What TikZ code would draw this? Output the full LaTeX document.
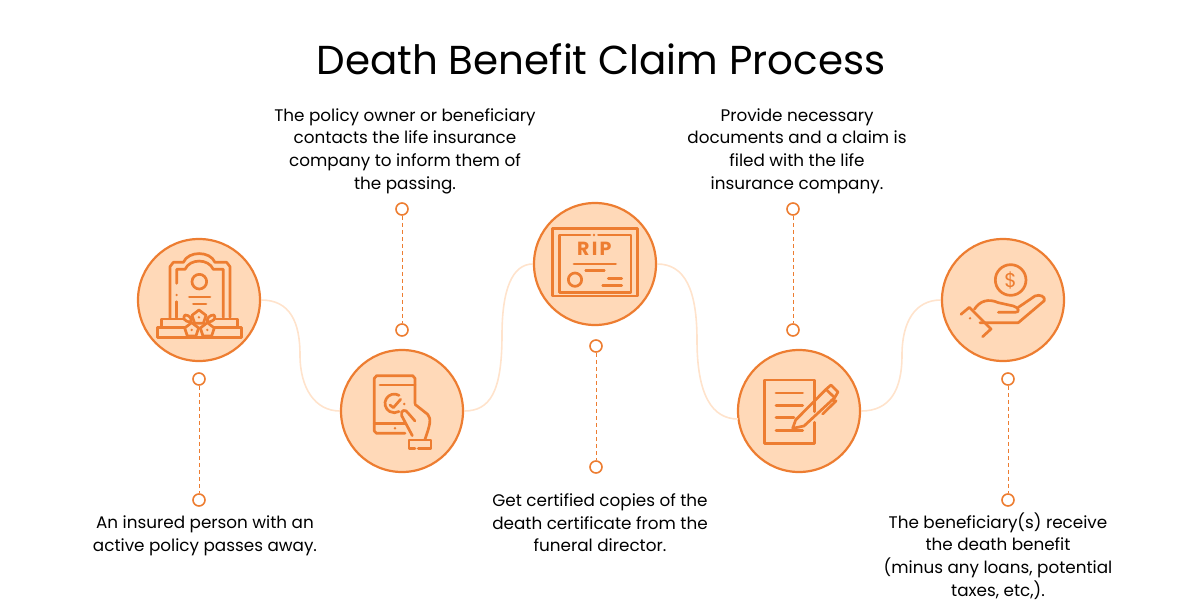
\documentclass[tikz,border=0pt]{standalone}
\usepackage{fontspec}
\setmainfont{Poppins}
\definecolor{iconorange}{HTML}{ED7D31}
\definecolor{stepfill}{HTML}{FFD9B8}
\definecolor{wavecolor}{HTML}{FFE3CC}
\tikzset{
  stepcircle/.style={circle,draw=iconorange,fill=stepfill,line width=2.2pt,minimum size=122pt,inner sep=0pt},
  dotcircle/.style={circle,draw=iconorange,fill=white,line width=1.6pt,minimum size=12pt,inner sep=0pt},
  dashline/.style={draw=iconorange,line width=0.9pt,dash pattern=on 4pt off 3pt},
  waveline/.style={draw=wavecolor,line width=1.6pt},
  iconline/.style={draw=iconorange,line width=2.7pt,line cap=round,line join=round},
  bodytext/.style={align=center,inner sep=0pt,text=black,font=\fontsize{16.8}{22.6}\selectfont},
  icontext/.style={inner sep=0pt,text=iconorange},
  icon/.style={shift={#1},x=0.3333pt,y=-0.3333pt}
}
\begin{document}
\begin{tikzpicture}[x=1pt,y=-1pt]
  \useasboundingbox (0,0) rectangle (1200,616);

  \node[inner sep=0pt,font=\fontsize{40.4}{46}\selectfont] (title) at (601,59) {Death Benefit Claim Process};

  \node[stepcircle] (grave) at (199,300) {};
  \node[stepcircle] (phone) at (402,411) {};
  \node[stepcircle] (cert) at (595,264) {};
  \node[stepcircle] (claim) at (799,411) {};
  \node[stepcircle] (money) at (1003,300) {};

  \coordinate (w1) at (300,355);
  \coordinate (w2) at (502,335);
  \coordinate (w3) at (697,340);
  \coordinate (w4) at (902,355);
  \coordinate (w5) at (738,419);
  \draw[waveline] (grave.east) .. controls (290,300) and (300,322) .. (w1) .. controls (300,388) and (315,411) .. (phone.west);
  \draw[waveline] (phone.east) .. controls (490,411) and (502,392) .. (w2) .. controls (502,290) and (512,264) .. (cert.west);
  \draw[waveline] (cert.east) .. controls (685,264) and (697,290) .. (w3) .. controls (697,395) and (712,419) .. (w5);
  \draw[waveline] (claim.east) .. controls (890,411) and (902,390) .. (w4) .. controls (902,322) and (915,300) .. (money.west);

  \node[dotcircle] (d1a) at (199,379) {};
  \node[dotcircle] (d1b) at (199,500) {};
  \node[dotcircle] (d2a) at (402,209) {};
  \node[dotcircle] (d2b) at (402,330) {};
  \node[dotcircle] (d3a) at (596,346) {};
  \node[dotcircle] (d3b) at (596,467) {};
  \node[dotcircle] (d4a) at (793,209) {};
  \node[dotcircle] (d4b) at (793,330) {};
  \node[dotcircle] (d5a) at (1008,379) {};
  \node[dotcircle] (d5b) at (1008,500) {};

  \draw[dashline] (d1a) -- (d1b);
  \draw[dashline] (d2a) -- (d2b);
  \draw[dashline] (d3a) -- (d3b);
  \draw[dashline] (d4a) -- (d4b);
  \draw[dashline] (d5a) -- (d5b);

  \node[bodytext] (t1) at (205,536) {An insured person with an\\active policy passes away.};
  \node[bodytext] (t2) at (405,151) {The policy owner or beneficiary\\contacts the life insurance\\company to inform them of\\the passing.};
  \node[bodytext] (t3) at (600,523) {Get certified copies of the\\death certificate from the\\funeral director.};
  \node[bodytext] (t4) at (797,151) {Provide necessary\\documents and a claim is\\filed with the life\\insurance company.};
  \node[bodytext] (t5) at (998,556) {The beneficiary(s) receive\\the death benefit\\(minus any loans, potential\\taxes, etc,).};

  % gravestone
  \begin{scope}[icon={(130,230)}]
    \draw[iconline] (120,265) -- (120,110) -- (130,97) -- (160,97) .. controls (175,62) and (240,62) .. (255,97) -- (290,97) -- (300,110) -- (300,262);
    \draw[iconline] (140,160) -- (140,118) -- (165,118) .. controls (180,85) and (235,85) .. (250,118) -- (280,118) -- (280,262);
    \draw[iconline] (140,215) -- (140,262);
    \fill[iconorange] (140,195) circle (4);
    \draw[iconline] (208,155) circle (22);
    \draw[iconline] (178,201) -- (240,201);
    \draw[iconline] (190,222) -- (228,222);
    \draw[iconline] (165,293) -- (95,293) -- (95,267) -- (158,267);
    \draw[iconline] (252,293) -- (323,293) -- (323,267) -- (258,267);
    \draw[iconline] (160,322) -- (82,322) -- (82,293) -- (95,293);
    \draw[iconline] (160,322) -- (335,322) -- (335,293) -- (323,293);
    \foreach \cx/\cy in {207/262,185/300,232/300} {
      \draw[iconline,fill=stepfill] (\cx,\cy-22) -- (\cx+21,\cy-6) -- (\cx+13,\cy+18) -- (\cx-13,\cy+18) -- (\cx-21,\cy-6) -- cycle;
      \fill[iconorange] (\cx,\cy) circle (4);
    }
    \draw[iconline] (183,276) .. controls (160,275) and (158,262) .. (165,255) .. controls (178,255) and (186,265) .. (183,276);
    \draw[iconline] (232,276) .. controls (255,275) and (258,262) .. (252,255) .. controls (238,255) and (230,265) .. (232,276);
  \end{scope}

  % phone and hand
  \begin{scope}[icon={(335,345)}]
    \draw[iconline] (210,265) -- (125,265) -- (118,258) -- (118,100) -- (125,92) -- (233,92) -- (240,100) -- (240,175);
    \draw[iconline] (135,120) -- (240,120);
    \draw[iconline] (118,235) -- (210,235);
    \fill[iconorange] (180,250) circle (4);
    \draw[iconline] (192,151) arc[start angle=-60,end angle=-300,radius=28];
    \draw[iconline] (165,180) -- (175,188) -- (197,163);
    \fill[iconorange] (208,177) circle (4);
    \draw[iconline] (232,272) -- (200,212) .. controls (195,195) and (212,190) .. (220,205) -- (240,228);
    \draw[iconline] (240,178) -- (278,208) .. controls (290,222) and (285,240) .. (270,283);
    \draw[iconline] (240,310) -- (222,310) -- (222,285) -- (288,285) -- (288,310) -- (250,310);
  \end{scope}

  % certificate
  \begin{scope}[icon={(525,195)}]
    \draw[iconline] (82,100) rectangle (338,303);
    \draw[iconline] (195,120) -- (103,120) -- (103,292) -- (318,292) -- (318,120) -- (220,120);
    \fill[iconorange] (207,120) circle (4);
    \node[icontext,font=\fontsize{19}{20}\selectfont\bfseries\addfontfeature{LetterSpace=12}] (rip) at (208,162) {RIP};
    \draw[iconline] (147,207) -- (272,207);
    \draw[iconline] (182,227) -- (238,227);
    \draw[iconline] (150,254) circle (20);
    \draw[iconline] (250,250) -- (290,250);
    \draw[iconline] (233,271) -- (290,271);
  \end{scope}

  % document and pen
  \begin{scope}[icon={(730,345)}]
    \draw[iconline] (253,200) -- (253,105) -- (103,105) -- (103,295) -- (253,295) -- (253,232);
    \draw[iconline] (138,144) -- (218,144);
    \draw[iconline] (138,181) -- (218,181);
    \draw[iconline] (138,218) -- (192,218);
    \draw[iconline] (138,256) -- (218,256);
    \draw[iconline] (188,250) -- (197,225) -- (288,133) -- (314,158) -- (222,243) -- cycle;
    \draw[iconline] (288,133) -- (303,120) -- (324,141) -- (314,158);
    \draw[iconline] (305,165) -- (318,168) -- (278,207);
  \end{scope}

  % hand with coin
  \begin{scope}[icon={(935,230)}]
    \draw[iconline] (227,150) circle (46);
    \node[icontext,font=\fontsize{20}{22}\selectfont] (dollar) at (227,150) {\$};
    \draw[iconline] (78,253) -- (103,232) -- (168,297) -- (143,320);
    \fill[iconorange] (105,265) circle (4);
    \draw[iconline] (118,238) .. controls (135,212) and (160,205) .. (190,218) -- (235,228) .. controls (252,232) and (256,248) .. (240,247) -- (190,247);
    \draw[iconline] (135,278) -- (250,278) -- (328,212) .. controls (332,200) and (315,192) .. (300,198) -- (250,232);
  \end{scope}
\end{tikzpicture}
\end{document}
